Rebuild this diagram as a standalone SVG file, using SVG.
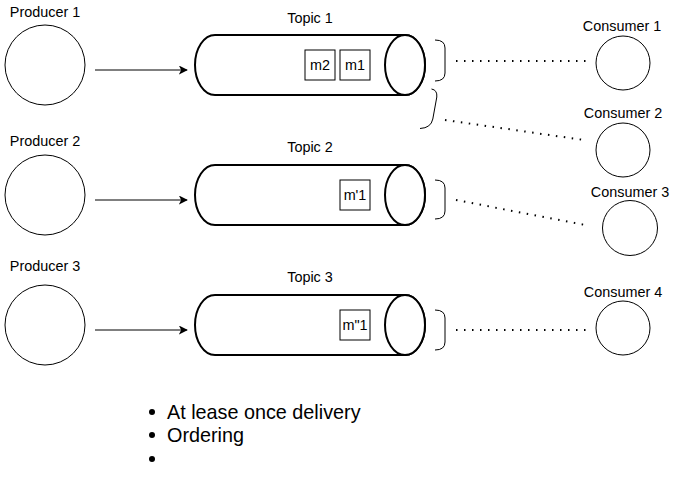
<svg xmlns="http://www.w3.org/2000/svg" width="676" height="492" viewBox="0 0 676 492">
<defs>
<style>
text{font-family:"Liberation Sans",Arial,Helvetica,sans-serif;fill:#000}
.lbl{font-size:14.4px}
.mid{text-anchor:middle}
.node{fill:#fff;stroke:#000;stroke-width:1}
.cyl{fill:#fff;stroke:#000;stroke-width:2}
.box{fill:#fff;stroke:#000;stroke-width:1}
.brace{fill:none;stroke:#000;stroke-width:1}
.arrow{fill:none;stroke:#000;stroke-width:1}
.dot{fill:none;stroke:#000;stroke-width:2;stroke-dasharray:1.5 6.5}
.bul{font-size:19.8px}
</style>
<marker id="ah" viewBox="0 0 10 10" refX="9" refY="5" markerWidth="9" markerHeight="9" markerUnits="userSpaceOnUse" orient="auto">
<path d="M0,0 L10,5 L0,10 L2.5,5 Z" fill="#000"/>
</marker>
</defs>
<rect width="676" height="492" fill="#fff"/>

<g id="producer1"><circle class="node" cx="45" cy="65" r="40"/><text class="lbl mid" x="45" y="17">Producer 1</text></g>
<g id="producer2"><circle class="node" cx="45" cy="195" r="40"/><text class="lbl mid" x="45" y="146">Producer 2</text></g>
<g id="producer3"><circle class="node" cx="45" cy="325" r="40"/><text class="lbl mid" x="45" y="271">Producer 3</text></g>

<g id="topic1">
<path class="cyl" d="M215,35 L405,35 A20,30 0 0 1 405,95 L215,95 A20,30 0 0 1 215,35 Z"/>
<ellipse class="cyl" cx="405" cy="65" rx="20" ry="30"/>
<text class="lbl mid" x="310" y="23">Topic 1</text>
</g>
<g id="m2"><rect class="box" x="305" y="50" width="30" height="30"/><text class="lbl mid" x="320" y="70">m2</text></g>
<g id="m1"><rect class="box" x="340" y="50" width="30" height="30"/><text class="lbl mid" x="355" y="70">m1</text></g>

<g id="topic2">
<path class="cyl" d="M215,165 L405,165 A20,30 0 0 1 405,225 L215,225 A20,30 0 0 1 215,165 Z"/>
<ellipse class="cyl" cx="405" cy="195" rx="20" ry="30"/>
<text class="lbl mid" x="310" y="152">Topic 2</text>
</g>
<g id="mp1"><rect class="box" x="340" y="180" width="30" height="30"/><text class="lbl mid" x="355" y="200">m'1</text></g>

<g id="topic3">
<path class="cyl" d="M215,295 L405,295 A20,30 0 0 1 405,355 L215,355 A20,30 0 0 1 215,295 Z"/>
<ellipse class="cyl" cx="405" cy="325" rx="20" ry="30"/>
<text class="lbl mid" x="310" y="282">Topic 3</text>
</g>
<g id="mpp1"><rect class="box" x="340" y="310" width="30" height="30"/><text class="lbl mid" x="355" y="330">m"1</text></g>

<g id="brace1"><path class="brace" d="M435,40 Q445,40 445,48 L445,73 Q445,81 435,81"/></g>
<g id="brace2"><path class="brace" d="M431.5,89 Q437.5,90 436.8,97 L432.8,119 Q431,128 420,128.5"/></g>
<g id="brace3"><path class="brace" d="M435,180 Q445,180 445,188 L445,211 Q445,219 435,219"/></g>
<g id="brace4"><path class="brace" d="M435,310 Q445,310 445,318 L445,342 Q445,350 435,350"/></g>

<g id="consumer1"><circle class="node" cx="623" cy="63" r="27"/><text class="lbl mid" x="622" y="31">Consumer 1</text></g>
<g id="consumer2"><circle class="node" cx="623" cy="150" r="27"/><text class="lbl mid" x="623" y="118">Consumer 2</text></g>
<g id="consumer3"><circle class="node" cx="630" cy="228" r="27.5"/><text class="lbl mid" x="630" y="197">Consumer 3</text></g>
<g id="consumer4"><circle class="node" cx="623" cy="328" r="27"/><text class="lbl mid" x="623" y="297">Consumer 4</text></g>

<g id="connectors">
<line class="arrow" x1="95" y1="70" x2="187" y2="70" marker-end="url(#ah)"/>
<line class="arrow" x1="95" y1="200" x2="187" y2="200" marker-end="url(#ah)"/>
<line class="arrow" x1="95" y1="330" x2="187" y2="330" marker-end="url(#ah)"/>
<line class="dot" x1="456" y1="61" x2="588" y2="61"/>
<line class="dot" x1="445" y1="120" x2="584" y2="140"/>
<line class="dot" x1="456" y1="200" x2="585" y2="225"/>
<line class="dot" x1="456" y1="330" x2="588" y2="330"/>
</g>

<g id="notes">
<circle cx="152" cy="412" r="3"/>
<circle cx="152" cy="435" r="3"/>
<circle cx="152" cy="459" r="3"/>
<text class="bul" x="167" y="419">At lease once delivery</text>
<text class="bul" x="167" y="442">Ordering</text>
</g>
</svg>
